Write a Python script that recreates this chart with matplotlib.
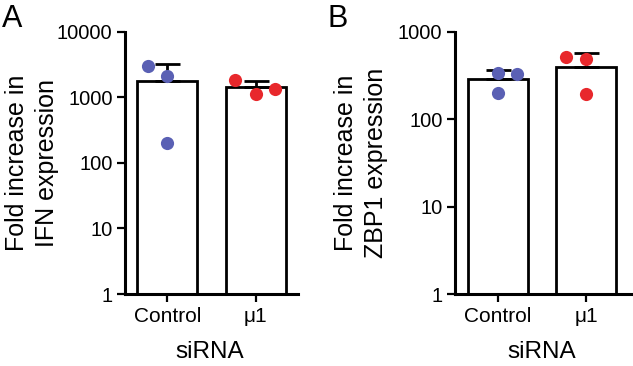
import numpy as np
import matplotlib
matplotlib.use('agg')
import matplotlib.pyplot as plt
from matplotlib.ticker import FixedLocator, NullLocator

plt.rcParams['font.family'] = ['Liberation Sans', 'DejaVu Sans']

groups = ['Control', 'μ1']
ifn_control = [3000, 2100, 204]
ifn_mu1 = [1835, 1120, 1320]
zbp1_control = [340, 328, 197]
zbp1_mu1 = [509, 483, 192]

blue = '#5a60b4'
red = '#e8282c'

W, H = 633, 366


def panel(ax, control, mu1, ylim, yticks, jitter, xlim):
    for i, (vals, col) in enumerate([(control, blue), (mu1, red)]):
        vals = np.array(vals, dtype=float)
        mean = vals.mean()
        sd = vals.std(ddof=1)
        ax.bar(i, mean, width=0.68, bottom=0, color='white', edgecolor='black',
               linewidth=2, zorder=2)
        ax.errorbar(i, mean, yerr=[[0], [sd]], color='black', elinewidth=2,
                    capsize=9, capthick=2, zorder=3)
        ax.scatter(i + np.array(jitter[i]), vals, s=90, color=col, zorder=4,
                   linewidths=0)
    ax.set_yscale('log')
    ax.set_ylim(*ylim)
    ax.set_xlim(*xlim)
    ax.yaxis.set_major_locator(FixedLocator(yticks))
    ax.yaxis.set_minor_locator(NullLocator())
    ax.set_yticklabels([str(t) for t in yticks], fontsize=14.5)
    ax.set_xticks([0, 1])
    ax.set_xticklabels(groups, fontsize=15)
    ax.spines['top'].set_visible(False)
    ax.spines['right'].set_visible(False)
    ax.spines['left'].set_linewidth(2.2)
    ax.spines['bottom'].set_linewidth(2.2)
    ax.tick_params(axis='both', direction='out', length=6, width=1.6, pad=3)


fig = plt.figure(figsize=(6.33, 3.66), dpi=100)
ax1 = fig.add_axes([125 / W, 1 - 294 / H, 173 / W, 262.3 / H])
ax2 = fig.add_axes([455 / W, 1 - 294 / H, 176 / W, 262.3 / H])

panel(ax1, ifn_control, ifn_mu1, (1, 10000), [1, 10, 100, 1000, 10000],
      [[-0.22, 0.0, 0.0], [-0.23, 0.0, 0.22]], (-0.477, 1.477))
panel(ax2, zbp1_control, zbp1_mu1, (1, 1000), [1, 10, 100, 1000],
      [[0.0, 0.22, 0.0], [-0.23, 0.0, 0.0]], (-0.49, 1.51))

# y labels, x labels and panel letters
fig.text(32 / W, 1 - 163 / H, 'Fold increase in\nIFN expression', rotation=90,
         fontsize=18, ha='center', va='center', linespacing=1.33)
fig.text(361 / W, 1 - 163 / H, 'Fold increase in\nZBP1 expression', rotation=90,
         fontsize=18, ha='center', va='center', linespacing=1.33)
fig.text(210 / W, 1 - 358 / H, 'siRNA', fontsize=17.5, ha='center', va='baseline')
fig.text(542 / W, 1 - 358 / H, 'siRNA', fontsize=17.5, ha='center', va='baseline')

fig.text(2 / W, 1 - 4 / H, 'A', fontsize=22, va='top', ha='left')
fig.text(327 / W, 1 - 4 / H, 'B', fontsize=22, va='top', ha='left')

fig.savefig('out.png', dpi=100)
